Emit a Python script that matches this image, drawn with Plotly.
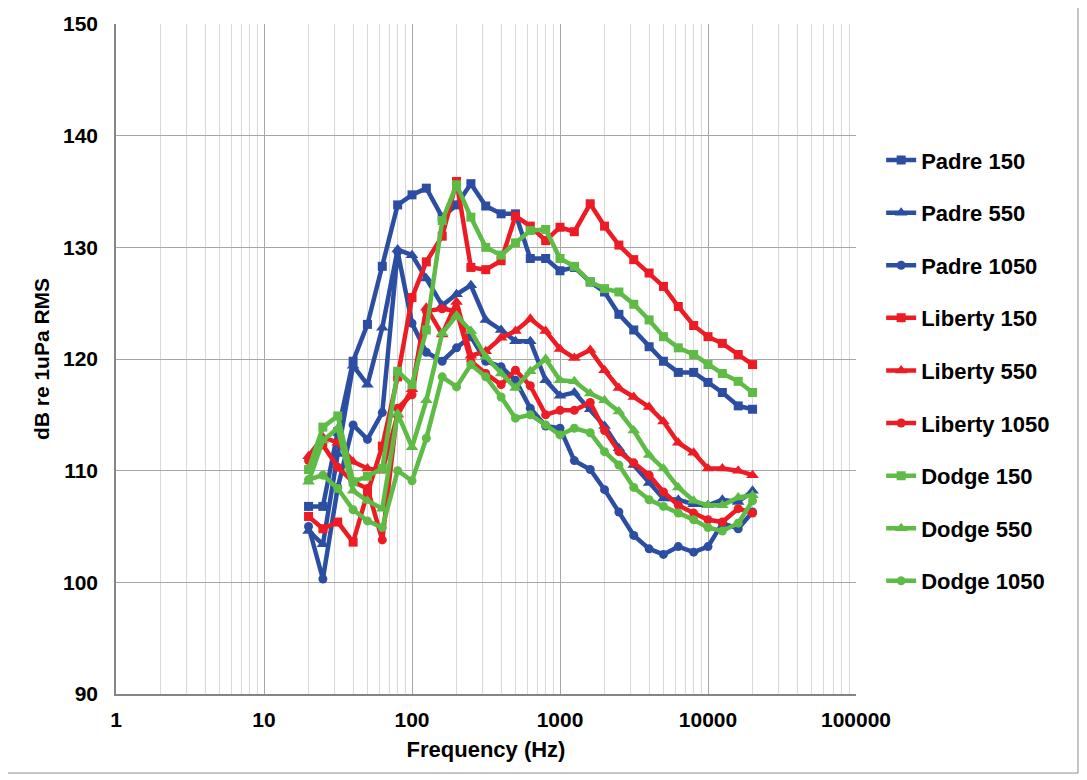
import plotly.graph_objects as go

freq = [20, 25, 31.5, 40, 50, 63, 80, 100, 125, 160, 200, 250, 315, 400, 500, 630,
        800, 1000, 1250, 1600, 2000, 2500, 3150, 4000, 5000, 6300, 8000, 10000,
        12500, 16000, 20000]

padre_150 = [106.8, 106.8, 113.5, 119.8, 123.1, 128.3, 133.8, 134.7, 135.3, 132.7, 133.8,
             135.7, 133.7, 133.0, 133.0, 129.0, 129.0, 127.9, 128.2, 126.9, 126.0, 124.0,
             122.6, 121.1, 119.8, 118.8, 118.8, 117.9, 117.0, 115.8, 115.5]
padre_550 = [104.6, 103.4, 111.5, 119.4, 117.7, 122.8, 129.8, 129.3, 127.2, 124.8, 125.8,
             126.6, 123.5, 122.6, 121.6, 121.6, 118.1, 116.7, 117.0, 115.5, 114.0, 112.0,
             110.5, 108.9, 107.5, 107.4, 107.0, 106.9, 107.4, 107.2, 108.2]
padre_1050 = [105.0, 100.3, 108.5, 114.1, 112.8, 115.2, 129.6, 123.2, 120.6, 119.8, 121.0,
              122.0, 119.8, 119.3, 118.1, 115.6, 114.0, 113.8, 110.9, 110.1, 108.3, 106.3,
              104.2, 103.0, 102.5, 103.2, 102.7, 103.2, 105.3, 104.8, 106.3]
liberty_150 = [105.9, 104.8, 105.4, 103.6, 108.0, 112.2, 118.4, 125.5, 128.7, 131.0, 135.9,
               128.2, 128.0, 128.8, 132.8, 131.9, 130.6, 131.8, 131.4, 133.9, 131.9, 130.2,
               128.9, 127.7, 126.5, 124.7, 123.0, 122.0, 121.4, 120.4, 119.5]
liberty_550 = [111.3, 113.0, 112.5, 110.8, 110.2, 110.0, 115.0, 117.3, 124.6, 122.2, 125.1,
               120.3, 120.7, 121.9, 122.5, 123.6, 122.5, 120.9, 120.1, 120.8, 119.0, 117.4,
               116.6, 115.7, 114.4, 112.5, 111.6, 110.2, 110.2, 110.0, 109.6]
liberty_1050 = [110.9, 112.3, 110.3, 109.0, 108.4, 103.8, 115.6, 116.8, 124.3, 124.5, 124.3,
                119.8, 118.7, 117.7, 119.0, 117.6, 115.0, 115.4, 115.4, 116.1, 113.6, 111.7,
                110.7, 109.6, 108.1, 106.9, 106.2, 105.6, 105.4, 106.6, 106.2]
dodge_150 = [110.1, 113.9, 114.9, 109.0, 109.5, 110.2, 118.9, 117.7, 122.6, 132.4, 135.6,
             132.7, 130.0, 129.3, 130.4, 131.5, 131.6, 129.0, 128.3, 126.9, 126.3, 126.0,
             124.9, 123.5, 122.0, 121.0, 120.4, 119.5, 118.7, 118.0, 117.0]
dodge_550 = [109.0, 112.7, 113.8, 108.2, 107.3, 106.6, 115.1, 112.1, 116.3, 122.3, 123.9,
             122.5, 120.2, 118.7, 117.4, 118.9, 120.0, 118.1, 118.0, 116.9, 116.3, 115.3,
             113.6, 111.4, 110.2, 108.5, 107.3, 106.9, 106.9, 107.6, 107.8]
dodge_1050 = [109.2, 109.6, 108.4, 106.5, 105.5, 104.9, 110.0, 109.1, 112.9, 118.4, 117.5,
              119.5, 118.4, 116.6, 114.7, 115.0, 114.1, 113.2, 113.8, 113.4, 111.7, 110.5,
              108.5, 107.4, 106.8, 106.2, 105.6, 104.9, 104.6, 105.3, 107.3]

x_tickvals = [1, 10, 100, 1000, 10000, 100000]
x_ticktext = ["1", "10", "100", "1000", "10000", "100000"]

BLUE = "#2B4EA2"
RED = "#ED1C24"
GREEN = "#5DBB46"

series = [
    ("Padre 150", padre_150, BLUE, "square", 9),
    ("Padre 550", padre_550, BLUE, "triangle-up", 11),
    ("Padre 1050", padre_1050, BLUE, "circle", 9),
    ("Liberty 150", liberty_150, RED, "square", 9),
    ("Liberty 550", liberty_550, RED, "triangle-up", 11),
    ("Liberty 1050", liberty_1050, RED, "circle", 9),
    ("Dodge 150", dodge_150, GREEN, "square", 9),
    ("Dodge 550", dodge_550, GREEN, "triangle-up", 11),
    ("Dodge 1050", dodge_1050, GREEN, "circle", 9),
]

FONT = "Liberation Sans"

fig = go.Figure()
for i, (name, vals, col, sym, sz) in enumerate(series):
    fig.add_trace(go.Scatter(
        x=freq, y=vals, name=name, mode="lines+markers",
        line=dict(color=col, width=4.5),
        marker=dict(symbol=sym, size=sz, color=col),
        legendgroup="g%d" % i,
    ))

fig.update_layout(
    width=1079, height=772,
    margin=dict(l=108, r=231, t=16, b=86, autoexpand=False),
    paper_bgcolor="white", plot_bgcolor="white",
    font=dict(family=FONT, size=21, color="black"),
    showlegend=True,
    legend=dict(
        x=1.034, xanchor="left", y=0.828, yanchor="top",
        font=dict(family=FONT, size=22, color="black", weight="bold"),
        tracegroupgap=21, itemwidth=30,
        bgcolor="rgba(0,0,0,0)",
    ),
    xaxis=dict(
        type="log", range=[0, 5], automargin=False,
        tickvals=x_tickvals, ticktext=x_ticktext,
        tickfont=dict(family=FONT, size=21, weight="bold"),
        showgrid=True, gridcolor="#A6A6A6", gridwidth=1,
        minor=dict(showgrid=True, dtick="D1", gridcolor="#D9D9D9", gridwidth=1),
        showline=True, linecolor="#868686", linewidth=1.5,
        ticks="", ticklabelstandoff=6,
        zeroline=False,
        title=dict(text="<b>Frequency (Hz)</b>", font=dict(family=FONT, size=22), standoff=12),
    ),
    yaxis=dict(
        range=[90, 150], dtick=10, automargin=False,
        tickfont=dict(family=FONT, size=21, weight="bold"),
        showgrid=True, gridcolor="#A6A6A6", gridwidth=1,
        showline=True, linecolor="#868686", linewidth=1.5,
        ticks="", ticklabelstandoff=12,
        zeroline=False,
        title=dict(text="<b>dB re 1uPa RMS</b>", font=dict(family=FONT, size=21), standoff=8),
    ),
    shapes=[dict(
        type="rect", xref="paper", yref="paper",
        x0=-0.147, x1=1.3, y0=-0.118, y1=1.025,
        line=dict(color="#8C8C8C", width=1), fillcolor="rgba(0,0,0,0)", layer="below",
    )],
)

fig.write_html("out.html")
